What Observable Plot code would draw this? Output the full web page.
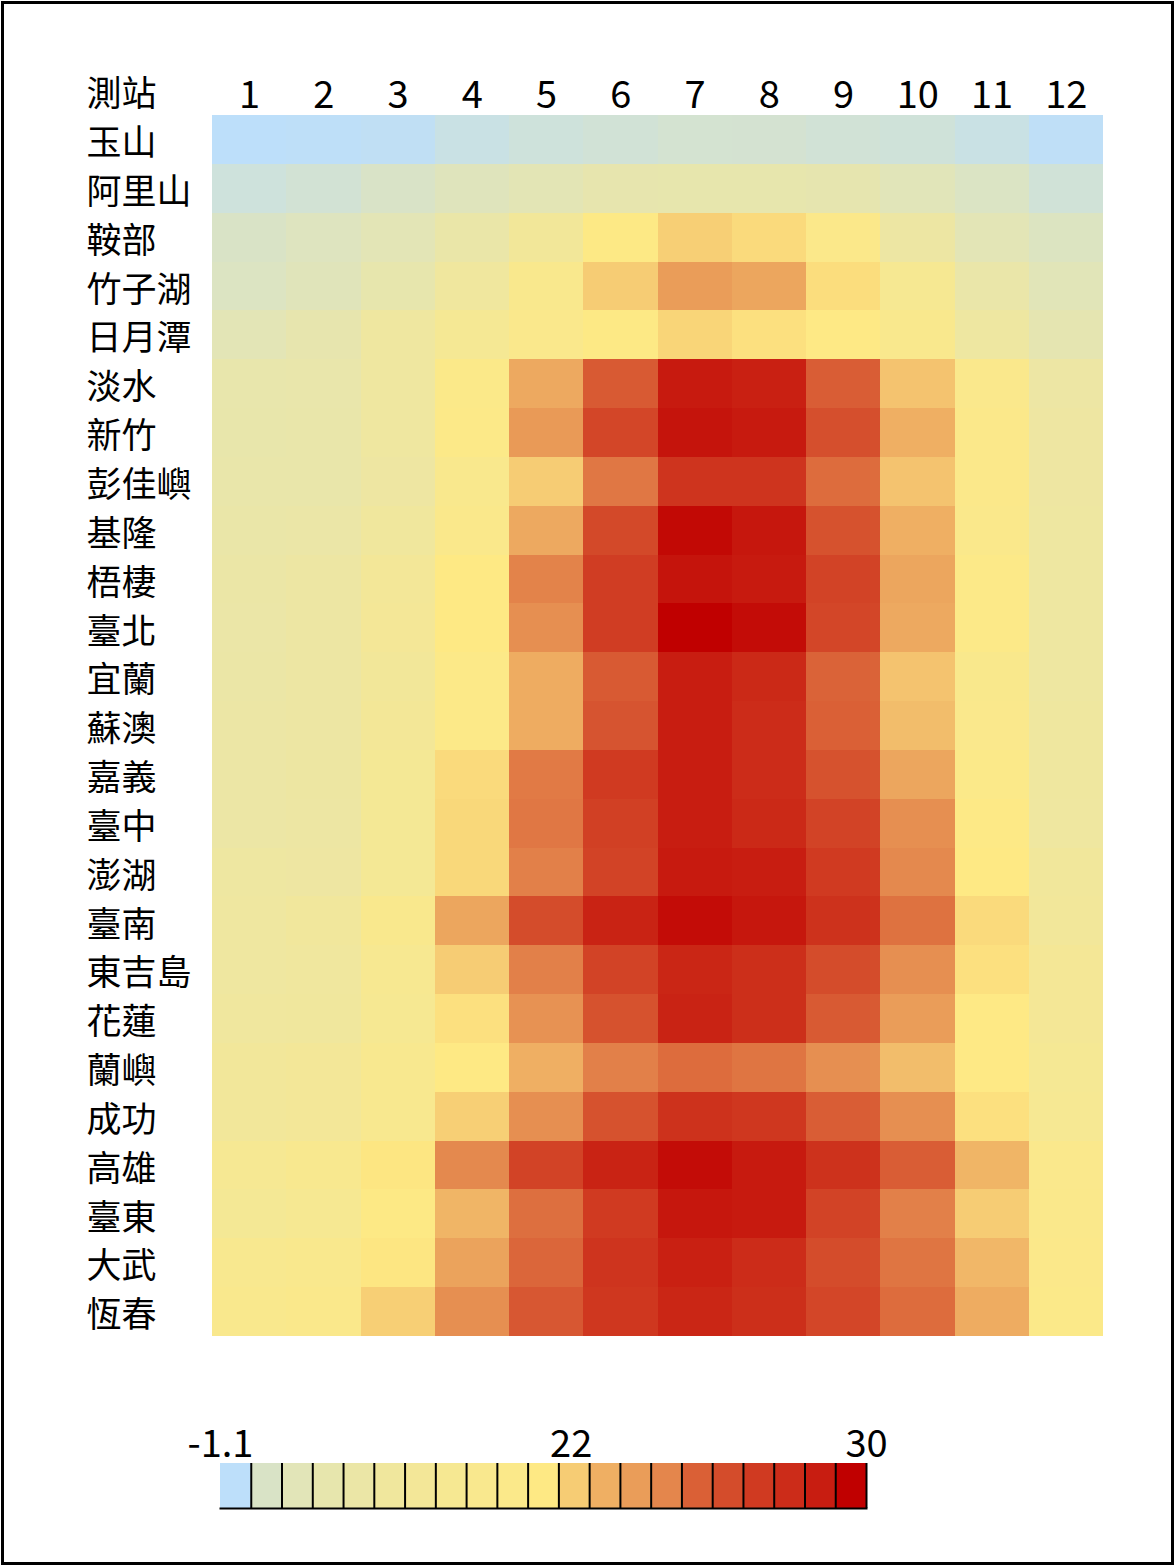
<!DOCTYPE html>
<html><head><meta charset="utf-8">
<script src="https://cdn.jsdelivr.net/npm/d3@7"></script>
<script src="https://cdn.jsdelivr.net/npm/@observablehq/plot@0.6"></script>
<style>
html,body{margin:0;padding:0;background:#fff;}
#page{position:relative;width:1175px;height:1566px;overflow:hidden;background:#fff;}
#frame{position:absolute;left:1px;top:1px;width:1173px;height:1564px;box-sizing:border-box;border:3px solid #000;pointer-events:none;}
#chart{position:absolute;left:0;top:0;}
#legend{position:absolute;left:0;top:1400px;}
</style></head><body>
<div id="page"><div id="chart"></div><div id="legend"></div><div id="frame"></div></div>
<script>
const headerLabel = "測站";
const months = ["1","2","3","4","5","6","7","8","9","10","11","12"];
const stations = ["玉山","阿里山","鞍部","竹子湖","日月潭","淡水","新竹","彭佳嶼","基隆","梧棲","臺北","宜蘭","蘇澳","嘉義","臺中","澎湖","臺南","東吉島","花蓮","蘭嶼","成功","高雄","臺東","大武","恆春"];
// monthly mean temperature (°C), one row per station, Jan..Dec
const temps = [
  [-1.1, -0.8, 0.0, 3.3, 4.9, 5.9, 7.0, 6.9, 6.0, 5.4, 3.2, -0.5],
  [4.8, 6.4, 8.8, 11.0, 12.4, 13.8, 14.0, 14.0, 13.6, 11.7, 9.4, 5.7],
  [9.0, 10.5, 12.3, 15.0, 17.8, 21.8, 22.9, 22.5, 20.8, 16.0, 12.3, 10.0],
  [9.8, 11.5, 14.0, 17.0, 20.3, 23.0, 24.6, 24.3, 22.4, 19.3, 14.8, 11.8],
  [12.3, 13.8, 16.5, 18.8, 20.5, 21.8, 22.7, 22.3, 21.9, 20.2, 16.3, 13.2],
  [14.2, 14.4, 16.6, 21.0, 24.2, 26.9, 29.1, 28.9, 26.8, 23.3, 20.5, 15.8],
  [14.3, 14.5, 16.6, 21.2, 24.7, 27.6, 29.3, 29.1, 27.3, 24.0, 20.8, 16.2],
  [14.5, 14.6, 16.2, 20.2, 23.0, 25.9, 28.2, 28.2, 26.3, 23.3, 20.8, 16.2],
  [15.0, 15.2, 17.2, 20.6, 24.2, 27.5, 29.7, 29.2, 27.2, 24.0, 20.6, 16.4],
  [15.3, 15.9, 18.0, 22.0, 25.5, 27.9, 29.3, 29.1, 27.7, 24.3, 21.3, 16.4],
  [15.1, 15.9, 18.3, 22.0, 25.1, 27.9, 30.0, 29.6, 27.6, 24.2, 21.2, 16.4],
  [15.4, 15.9, 17.8, 21.2, 24.1, 26.9, 29.0, 28.6, 26.6, 23.3, 20.4, 16.4],
  [15.5, 15.9, 18.2, 21.3, 24.1, 27.1, 29.0, 28.5, 26.7, 23.5, 20.5, 16.7],
  [15.5, 16.1, 18.6, 22.5, 25.8, 28.0, 29.0, 28.5, 27.2, 24.3, 21.0, 16.7],
  [15.6, 15.9, 18.6, 22.6, 25.9, 27.8, 29.0, 28.6, 27.7, 25.1, 21.6, 16.6],
  [16.3, 16.2, 18.6, 22.6, 25.6, 27.7, 29.1, 29.0, 28.0, 25.3, 22.0, 17.4],
  [16.6, 17.3, 20.2, 24.3, 27.4, 28.8, 29.6, 29.2, 28.3, 26.1, 22.5, 17.6],
  [16.6, 16.9, 19.5, 23.0, 25.6, 27.7, 28.7, 28.4, 27.4, 25.1, 22.3, 18.4],
  [17.0, 17.2, 19.2, 22.3, 25.0, 27.2, 28.8, 28.4, 26.9, 24.6, 21.9, 18.5],
  [17.6, 18.0, 19.8, 22.0, 24.0, 25.6, 26.3, 26.0, 25.1, 23.5, 21.9, 18.8],
  [17.6, 18.0, 19.8, 22.9, 25.1, 27.2, 28.3, 28.1, 26.8, 25.1, 22.3, 19.0],
  [19.0, 19.8, 22.1, 25.3, 27.7, 28.8, 29.6, 29.1, 28.3, 26.8, 23.8, 20.5],
  [18.6, 19.3, 21.8, 23.8, 26.2, 28.0, 29.2, 29.1, 27.7, 25.6, 23.0, 20.6],
  [19.8, 20.3, 22.1, 24.4, 26.5, 28.2, 28.9, 28.5, 27.4, 26.0, 23.7, 20.8],
  [20.3, 20.7, 22.9, 25.1, 27.0, 28.1, 28.7, 28.4, 27.6, 26.3, 24.1, 21.0]
];
// legend swatch values
const legendValues = [-1.1, 9.0, 11.9, 14.0, 15.3, 17.1, 18.0, 19.2, 20.1, 20.9, 22.0, 23.0, 24.0, 24.6, 25.4, 26.7, 27.4, 28.0, 28.5, 29.0, 30.0];
const legendLabels = ["-1.1", "22", "30"];
const legendLabelAt = [0, 11.4, 21];

const colorDomain = [-1.1, 22, 30];
const colorRange = ["#BDDFFA", "#FEE984", "#C00000"];

const table = stations.flatMap((s, i) => months.map((m, j) => ({station: s, month: m, value: temps[i][j]})));

const font = "'Noto Sans CJK TC', 'Noto Sans', sans-serif";
const colorOpts = {type: "linear", domain: colorDomain, range: colorRange, interpolate: "rgb", clamp: true};

const chart = Plot.plot({
  width: 1175, height: 1340,
  marginLeft: 212, marginRight: 72, marginTop: 115, marginBottom: 4,
  x: {type: "band", domain: months, padding: 0, round: false, axis: null},
  y: {type: "band", domain: stations, padding: 0, round: false, axis: null},
  color: colorOpts,
  style: {fontFamily: font, color: "#000", background: "transparent", overflow: "visible"},
  marks: [
    Plot.cell(table, {x: "month", y: "station", fill: "value", inset: 0, shapeRendering: "crispEdges"}),
    Plot.text(months, {x: d => d, frameAnchor: "top", lineAnchor: "bottom", dy: -8, fontSize: 38, fill: "#000"}),
    Plot.text(stations, {y: d => d, frameAnchor: "left", textAnchor: "start", dx: -126, dy: 4, fontSize: 35, fill: "#000"}),
    Plot.text([headerLabel], {frameAnchor: "top-left", textAnchor: "start", lineAnchor: "bottom", dx: -126, dy: -10, fontSize: 35, fill: "#000"})
  ]
});
document.getElementById("chart").appendChild(chart);

const legend = Plot.plot({
  width: 1175, height: 120,
  marginLeft: 220, marginRight: 309, marginTop: 63, marginBottom: 12,
  x: {type: "linear", domain: [0, legendValues.length], axis: null},
  color: colorOpts,
  style: {fontFamily: font, color: "#000", background: "transparent", overflow: "visible"},
  marks: [
    Plot.rect(legendValues, {x1: (d, i) => i, x2: (d, i) => i + 1, fill: d => d, shapeRendering: "crispEdges"}),
    Plot.ruleX(d3.range(1, legendValues.length + 1), {stroke: "#000", strokeWidth: 2}),
    Plot.frame({anchor: "bottom", stroke: "#000", strokeWidth: 2}),
    Plot.text(legendLabels, {x: legendLabelAt, frameAnchor: "top", lineAnchor: "bottom", dy: -7, fontSize: 38, fill: "#000"})
  ]
});
document.getElementById("legend").appendChild(legend);
</script></body></html>
